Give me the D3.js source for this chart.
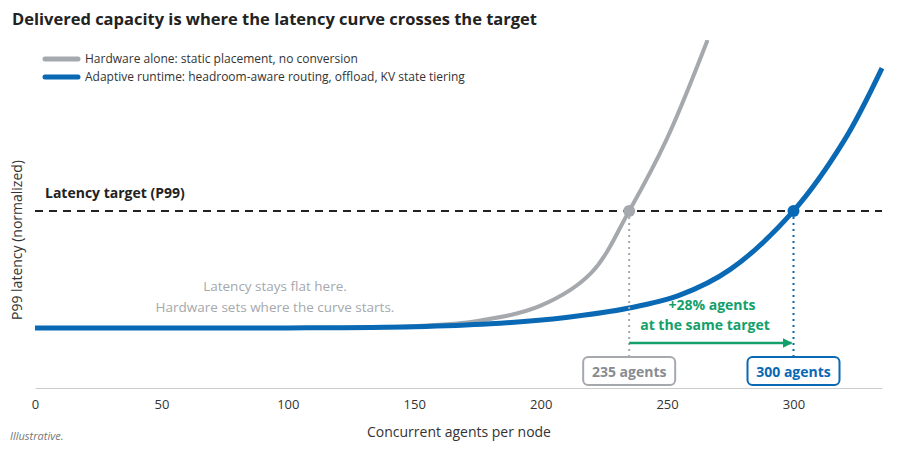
<!DOCTYPE html>
<html><head><meta charset="utf-8">
<script src="https://cdn.jsdelivr.net/npm/d3@7"></script>
<style>body{margin:0;background:#fff;font-family:"Segoe UI","Open Sans",sans-serif;}</style>
</head><body>
<svg id="chart" width="906" height="453"></svg>
<script>
const xTicks = [0, 50, 100, 150, 200, 250, 300];
const grayX = [0, 100, 130, 150, 175, 200, 220, 235, 250, 266];
const grayY = [1.0, 1.0, 1.004, 1.015, 1.06, 1.19, 1.47, 2.0, 2.62, 3.46];
const blueX = [0, 100, 150, 180, 210, 235, 255, 275, 300, 320, 335];
const blueY = [1.0, 1.0, 1.01, 1.035, 1.09, 1.17, 1.28, 1.5, 2.0, 2.6, 3.22];
const target = 2.0;
const grayCross = 235, blueCross = 300;

const svg = d3.select("#chart");
const x = d3.scaleLinear().domain([0, 335]).range([35, 882]);
const y = d3.scaleLinear().domain([0.487, 3.46]).range([388, 40]);

svg.append("text").attr("x", 12).attr("y", 25).text("Delivered capacity is where the latency curve crosses the target")
  .attr("font-size", 16.5).attr("font-weight", 700).attr("fill", "#222");

svg.append("defs").append("clipPath").attr("id", "clip").append("rect")
  .attr("x", 35).attr("y", 40).attr("width", 850).attr("height", 348);

const xAxis = svg.append("g").attr("transform", "translate(0,388)")
  .call(d3.axisBottom(x).tickValues(xTicks).tickSize(0).tickPadding(12));
xAxis.select(".domain").attr("stroke", "#ccc");
xAxis.selectAll("text").attr("font-size", 13).attr("fill", "#333").attr("font-family", "Segoe UI, Open Sans, sans-serif");

svg.append("text").attr("x", 459).attr("y", 437).attr("text-anchor", "middle").attr("font-size", 14).attr("fill", "#333").text("Concurrent agents per node");
svg.append("text").attr("transform", "translate(22,240) rotate(-90)").attr("text-anchor", "middle").attr("font-size", 14).attr("fill", "#333").text("P99 latency (normalized)");
svg.append("text").attr("x", 10).attr("y", 440).attr("font-size", 11).attr("font-style", "italic").attr("fill", "#777").text("Illustrative.");

svg.append("line").attr("x1", x(0)).attr("x2", x(335)).attr("y1", y(target)).attr("y2", y(target))
  .attr("stroke", "#222").attr("stroke-width", 2).attr("stroke-dasharray", "8,6");
svg.append("text").attr("x", 45).attr("y", y(target) - 13).attr("font-size", 14).attr("font-weight", 700).attr("fill", "#222").text("Latency target (P99)");

const line = d3.line().x(d => x(d[0])).y(d => y(d[1])).curve(d3.curveCatmullRom.alpha(0.5));
svg.append("path").datum(d3.zip(grayX, grayY)).attr("d", line).attr("clip-path", "url(#clip)")
  .attr("fill", "none").attr("stroke", "#a5a8ad").attr("stroke-width", 4);
svg.append("path").datum(d3.zip(blueX, blueY)).attr("d", line).attr("clip-path", "url(#clip)")
  .attr("fill", "none").attr("stroke", "#0a69b4").attr("stroke-width", 5);

[[grayCross, "#a5a8ad"], [blueCross, "#0a69b4"]].forEach(([v, c]) => {
  svg.append("line").attr("x1", x(v)).attr("x2", x(v)).attr("y1", y(target)).attr("y2", 358)
    .attr("stroke", c).attr("stroke-width", 2).attr("stroke-dasharray", "2,4");
  svg.append("circle").attr("cx", x(v)).attr("cy", y(target)).attr("r", 6).attr("fill", c);
});

[[grayCross, "#a5a8ad", "#888c91", "235 agents"], [blueCross, "#0a69b4", "#0a69b4", "300 agents"]].forEach(([v, c, tc, t]) => {
  svg.append("rect").attr("x", x(v) - 46).attr("y", 357).attr("width", 92).attr("height", 28).attr("rx", 5)
    .attr("fill", "#fff").attr("stroke", c).attr("stroke-width", 2);
  svg.append("text").attr("x", x(v)).attr("y", 377).attr("text-anchor", "middle").attr("font-size", 14)
    .attr("font-weight", 700).attr("fill", tc).text(t);
});

svg.append("defs").append("marker").attr("id", "arr").attr("viewBox", "0 0 10 10").attr("refX", 9).attr("refY", 5)
  .attr("markerWidth", 4).attr("markerHeight", 4).attr("orient", "auto")
  .append("path").attr("d", "M0,0L10,5L0,10z").attr("fill", "#13a06a");
svg.append("line").attr("x1", x(grayCross)).attr("x2", x(blueCross) - 2).attr("y1", 343).attr("y2", 343)
  .attr("stroke", "#13a06a").attr("stroke-width", 2.5).attr("marker-end", "url(#arr)");
svg.append("text").attr("x", 712).attr("y", 310).attr("text-anchor", "middle").attr("font-size", 14).attr("font-weight", 700).attr("fill", "#13a06a").text("+28% agents");
svg.append("text").attr("x", 705).attr("y", 330).attr("text-anchor", "middle").attr("font-size", 14).attr("font-weight", 700).attr("fill", "#13a06a").text("at the same target");

svg.append("text").attr("x", 275).attr("y", 291).attr("text-anchor", "middle").attr("font-size", 13.5).attr("fill", "#a5a8ad").text("Latency stays flat here.");
svg.append("text").attr("x", 275).attr("y", 312).attr("text-anchor", "middle").attr("font-size", 13.5).attr("fill", "#a5a8ad").text("Hardware sets where the curve starts.");

[["#a5a8ad", "Hardware alone: static placement, no conversion"], ["#0a69b4", "Adaptive runtime: headroom-aware routing, offload, KV state tiering"]].forEach(([c, t], i) => {
  const yy = 59 + i * 18;
  svg.append("line").attr("x1", 45).attr("x2", 78).attr("y1", yy).attr("y2", yy).attr("stroke", c).attr("stroke-width", 5).attr("stroke-linecap", "round");
  svg.append("text").attr("x", 85).attr("y", yy + 4).attr("font-size", 12).attr("fill", "#333").text(t);
});
</script>
</body></html>
